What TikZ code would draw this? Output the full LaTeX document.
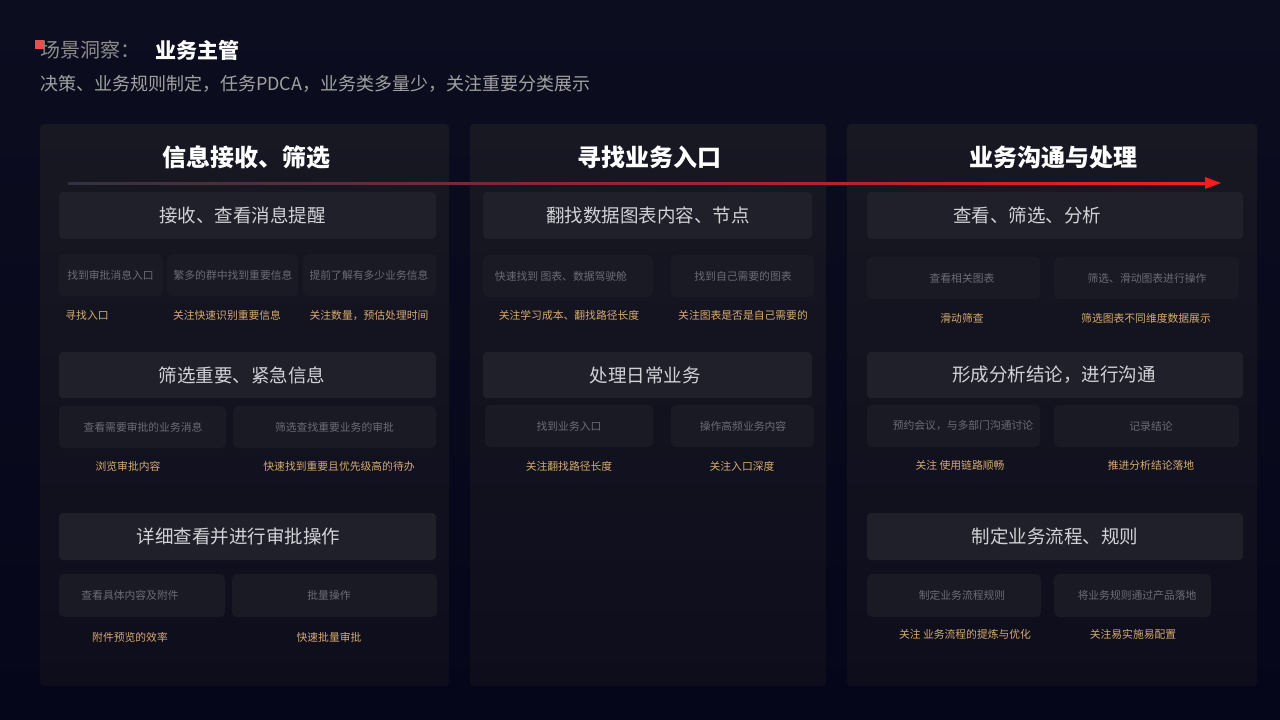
\documentclass[tikz,border=0pt]{standalone}
\usepackage{fontspec}
\setmainfont{Noto Sans CJK SC}
\definecolor{bgtop}{HTML}{0D0D20}
\definecolor{bgbot}{HTML}{06061A}
\definecolor{paneltop}{HTML}{181823}
\definecolor{panelbot}{HTML}{0D0D1C}
\definecolor{hdrfill}{HTML}{20202B}
\definecolor{subfill}{HTML}{1A1A24}
\definecolor{hdrtxt}{HTML}{D2D2D6}
\definecolor{subtxt}{HTML}{6C6C78}
\definecolor{gold}{HTML}{D6AA6E}
\definecolor{arrred}{HTML}{F41C1F}
\definecolor{sqred}{HTML}{E8504A}
\tikzset{
  panel/.style={rounded corners=4pt, top color=paneltop, bottom color=panelbot},
  hbox/.style={rounded corners=4pt, fill=hdrfill, inner sep=0pt},
  cbox/.style={rounded corners=5pt, fill=subfill, inner sep=0pt},
  coltitle/.style={text=white, font=\fontsize{24}{28}\selectfont\bfseries, inner sep=0pt},
  htext/.style={text=hdrtxt, font=\fontsize{18.5}{22}\selectfont, inner sep=0pt},
  ctext/.style={text=subtxt, font=\fontsize{10.8}{13}\selectfont, inner sep=0pt},
  gtext/.style={text=gold, font=\fontsize{10.8}{13}\selectfont, inner sep=0pt},
}
% name, cx, cy, w, h, tx, text
\newcommand\mycard[7]{%
  \node[cbox, minimum width=#4pt, minimum height=#5pt] (#1) at (#2,#3) {};
  \node[ctext] (#1t) at (#6,#3) {#7};}
% name, cx, cy, w, h, tx, text
\newcommand\myhead[7]{%
  \node[hbox, minimum width=#4pt, minimum height=#5pt] (#1) at (#2,#3) {};
  \node[htext] (#1t) at (#6,#3) {#7};}
\newcommand\mylabel[4]{\node[gtext] (#1) at (#2,#3) {#4};}
\begin{document}
\begin{tikzpicture}[x=1pt,y=-1pt]
\useasboundingbox (0,0) rectangle (1280,720);
\shade[top color=bgtop, bottom color=bgbot] (0,0) rectangle (1280,720);

% header
\node[anchor=west, text=white!55!black, font=\fontsize{20}{23}\selectfont, inner sep=0pt] (scene) at (40,50) {场景洞察：};
\fill[sqred] (35,40) rectangle (44,49);
\node[anchor=west, text=white, font=\fontsize{21}{24}\selectfont\bfseries, inner sep=0pt] (role) at (155,50) {业务主管};
\node[anchor=west, text=white!63!black, font=\fontsize{18}{21}\selectfont, inner sep=0pt] (sub) at (40,84) {决策、业务规则制定，任务PDCA，业务类多量少，关注重要分类展示};

% panels
\shade[panel] (40,124) rectangle (449,686);
\shade[panel] (470,124) rectangle (826,686);
\shade[panel] (847,124) rectangle (1257,686);

% column titles
\node[coltitle] (t1) at (246,157) {信息接收、筛选};
\node[coltitle] (t2) at (649,157) {寻找业务入口};
\node[coltitle] (t3) at (1053,157) {业务沟通与处理};

% red arrow
\coordinate (arrS) at (68,183);
\coordinate (arrE) at (1206,183);
\shade[left color=white!15!bgtop, middle color=arrred!80!black, right color=arrred] ([yshift=-1pt]arrS) rectangle ([yshift=1pt]arrE);
\fill[arrred] (1205,177) -- (1221,183) -- (1205,189) -- cycle;

% ---------- left column ----------
\myhead{L1}{247.5}{215.5}{377}{47}{242.7}{接收、查看消息提醒}
\mycard{L11}{111}{275}{104}{42}{110.5}{找到审批消息入口}
\mycard{L12}{232.5}{275}{131}{42}{233}{繁多的群中找到重要信息}
\mycard{L13}{369.5}{275}{133}{42}{369}{提前了解有多少业务信息}
\mylabel{gL11}{87}{315.5}{寻找入口}
\mylabel{gL12}{227}{315.5}{关注快速识别重要信息}
\mylabel{gL13}{369}{315.5}{关注数量，预估处理时间}

\myhead{L2}{247.5}{375}{377}{46}{242}{筛选重要、紧急信息}
\mycard{L21}{142.5}{427}{167}{42}{143}{查看需要审批的业务消息}
\mycard{L22}{334.5}{427}{203}{42}{334.5}{筛选查找重要业务的审批}
\mylabel{gL21}{128}{466}{浏览审批内容}
\mylabel{gL22}{339}{466}{快速找到重要且优先级高的待办}

\myhead{L3}{247.5}{536.5}{377}{47}{238.7}{详细查看并进行审批操作}
\mycard{L31}{142}{595.5}{166}{43}{130}{查看具体内容及附件}
\mycard{L32}{334.5}{595.5}{205}{43}{329}{批量操作}
\mylabel{gL31}{130}{637}{附件预览的效率}
\mylabel{gL32}{329}{637}{快速批量审批}

% ---------- middle column ----------
\myhead{M1}{647.5}{215.5}{329}{47}{648}{翻找数据图表内容、节点}
\mycard{M11}{568}{276}{170}{42}{561}{快速找到 图表、数据驾驶舱}
\mycard{M12}{742.5}{276}{143}{42}{743}{找到自己需要的图表}
\mylabel{gM11}{569}{315.5}{关注学习成本、翻找路径长度}
\mylabel{gM12}{743}{315.5}{关注图表是否是自己需要的}

\myhead{M2}{647.5}{375}{329}{46}{645}{处理日常业务}
\mycard{M21}{569}{426}{168}{42}{569}{找到业务入口}
\mycard{M22}{742.5}{426}{143}{42}{743}{操作高频业务内容}
\mylabel{gM21}{569}{466}{关注翻找路径长度}
\mylabel{gM22}{742}{466}{关注入口深度}

% ---------- right column ----------
\myhead{R1}{1055}{215.5}{376}{47}{1027}{查看、筛选、分析}
\mycard{R11}{953.5}{278}{173}{42}{962}{查看相关图表}
\mycard{R12}{1146.5}{278}{185}{42}{1147}{筛选、滑动图表进行操作}
\mylabel{gR11}{962}{318}{滑动筛查}
\mylabel{gR12}{1146}{318}{筛选图表不同维度数据展示}

\myhead{R2}{1055}{375}{376}{46}{1054}{形成分析结论，进行沟通}
\mycard{R21}{953.5}{426}{173}{42}{963}{预约会议，与多部门沟通讨论}
\mycard{R22}{1146.5}{426}{185}{42}{1151}{记录结论}
\mylabel{gR21}{960}{465}{关注 使用链路顺畅}
\mylabel{gR22}{1151}{465}{推进分析结论落地}

\myhead{R3}{1055}{536.5}{376}{47}{1055}{制定业务流程、规则}
\mycard{R31}{954}{595.5}{174}{43}{962}{制定业务流程规则}
\mycard{R32}{1132.5}{595.5}{157}{43}{1137}{将业务规则通过产品落地}
\mylabel{gR31}{965}{634}{关注 业务流程的提炼与优化}
\mylabel{gR32}{1133}{634}{关注易实施易配置}
\end{tikzpicture}
\end{document}
